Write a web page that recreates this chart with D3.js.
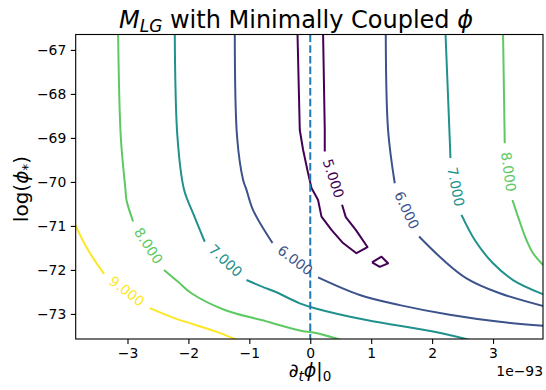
<!DOCTYPE html>
<html>
<head>
<meta charset="utf-8">
<script src="https://cdn.jsdelivr.net/npm/d3@7"></script>
<style>
    body { margin: 0; background: #fff; }
    svg text { font-family: 'DejaVu Sans', sans-serif; }
</style>
</head>
<body>
<div id="chart"></div>
<script>
// contour levels and viridis colours
var levels = [5, 6, 7, 8, 9]
var levelColors = ['#440154', '#3b528b', '#21918c', '#5ec962', '#fde725']

var xTicks = [-3, -2, -1, 0, 1, 2, 3]
var yTicks = [-73, -72, -71, -70, -69, -68, -67]
var xDomain = [-3.85, 3.82]
var yDomain = [-73.57, -66.65]

// contour polylines: [dphi (1e-93), log(phi*)]
var lines5 = [
    [[-0.21, -66.6], [-0.172, -68.82], [-0.118, -69.27], [-0.036, -69.8], [0.02, -70.14], [0.128, -70.41], [0.184, -70.79], [0.348, -71.09], [0.538, -71.39], [0.758, -71.62], [0.939, -71.48], [0.747, -71.09], [0.583, -70.8], [0.522, -70.52]],
    [[0.238, -69.31], [0.238, -68.82], [0.21, -66.6]],
    [[1.014, -71.83], [1.169, -71.7], [1.277, -71.85], [1.141, -71.93], [1.014, -71.83]]
]
var lines6 = [
    [[-1.239, -66.6], [-1.201, -68.98], [-1.103, -69.95], [-1.047, -70.18], [-0.939, -70.64], [-0.62, -71.39]],
    [[0.128, -72.17], [0.812, -72.57], [1.469, -72.8], [2.289, -73.02], [3.11, -73.18], [3.85, -73.27]],
    [[1.239, -66.6], [1.277, -68.82], [1.387, -70.03]],
    [[1.786, -71.24], [2.18, -71.77], [2.564, -72.19], [3.11, -72.53], [3.85, -72.83]]
]
var lines7 = [
    [[-2.224, -66.6], [-2.18, -68.98], [-2.071, -70.18], [-1.924, -70.71], [-1.732, -71.36]],
    [[-1.047, -72.23], [-0.719, -72.42], [-0.583, -72.49], [-0.172, -72.76], [0.074, -72.87], [0.922, -73.14], [2.015, -73.4], [2.646, -73.6]],
    [[2.219, -66.6], [2.29, -69.05], [2.301, -69.46]],
    [[2.482, -70.75], [2.7, -71.32], [3.0, -71.85], [3.328, -72.23], [3.85, -72.57]]
]
var lines8 = [
    [[-3.154, -66.6], [-3.11, -68.98], [-3.033, -70.18], [-3.017, -70.41], [-2.908, -70.9]],
    [[-2.4, -72.0], [-2.17, -72.27], [-1.95, -72.53], [-1.403, -72.91], [-0.801, -73.14], [-0.172, -73.375], [0.074, -73.43], [0.528, -73.6]],
    [[3.164, -66.6], [3.192, -69.12]],
    [[3.319, -70.41], [3.41, -70.79], [3.548, -71.32], [3.657, -71.62], [3.85, -71.93]]
]
var lines9 = [
    [[-3.9, -70.85], [-3.647, -71.55], [-3.384, -72.09]],
    [[-2.634, -72.87], [-2.224, -73.1], [-1.93, -73.23], [-1.57, -73.39], [-1.185, -73.6]]
]

// inline contour labels
var labelLevels = [5, 6, 6, 7, 7, 8, 8, 9]
var labelX = [0.381, -0.246, 1.587, -1.389, 2.391, -2.654, 3.256, -3.008]
var labelY = [-69.92, -71.78, -70.64, -71.79, -70.11, -71.45, -69.77, -72.48]
var labelAngle = [72, 37, 65, 43, 79, 57, 82, 37]

var W = 546,
    H = 390,
    margin = { top: 34.5, right: 3, bottom: 51, left: 75.7 },
    width = W - margin.left - margin.right,
    height = H - margin.top - margin.bottom

var svg = d3.select('#chart').append('svg').attr('width', W).attr('height', H)

var x = d3.scaleLinear().domain(xDomain).range([0, width])
var y = d3.scaleLinear().domain(yDomain).range([height, 0])
var color = d3.scaleOrdinal().domain(levels).range(levelColors)

svg.append('defs').append('clipPath').attr('id', 'plotclip')
    .append('rect').attr('width', width).attr('height', height)

var g = svg.append('g').attr('transform', 'translate(' + margin.left + ',' + margin.top + ')')
var plot = g.append('g').attr('clip-path', 'url(#plotclip)')

var smooth = d3.line()
    .x(function (d) { return x(d[0]) })
    .y(function (d) { return y(d[1]) })
    .curve(d3.curveCatmullRom.alpha(0.5))
var straight = d3.line()
    .x(function (d) { return x(d[0]) })
    .y(function (d) { return y(d[1]) })

var allLines = [lines5, lines6, lines7, lines8, lines9]
allLines.forEach(function (segs, i) {
    plot.selectAll('path.lv' + levels[i])
        .data(segs)
        .enter()
        .append('path')
        .attr('class', 'lv' + levels[i])
        .attr('d', levels[i] === 5 ? straight : smooth)
        .attr('fill', 'none')
        .attr('stroke', color(levels[i]))
        .attr('stroke-width', 2)
        .attr('stroke-linejoin', 'round')
})

// dashed line at dphi = 0
plot.append('line')
    .attr('x1', x(0)).attr('x2', x(0))
    .attr('y1', 0).attr('y2', height)
    .attr('stroke', '#1f77b4')
    .attr('stroke-width', 2)
    .attr('stroke-dasharray', '7.5,3.2')

// contour labels
plot.selectAll('text.clabel')
    .data(labelLevels)
    .enter()
    .append('text')
    .attr('class', 'clabel')
    .attr('transform', function (d, i) {
        return 'translate(' + x(labelX[i]) + ',' + y(labelY[i]) + ') rotate(' + labelAngle[i] + ')'
    })
    .attr('text-anchor', 'middle')
    .attr('dominant-baseline', 'central')
    .style('font-size', '13.9px')
    .attr('fill', function (d) { return color(d) })
    .text(function (d) { return d3.format('.3f')(d) })

// axes
var xAxis = g.append('g')
    .attr('transform', 'translate(0,' + height + ')')
    .call(d3.axisBottom(x).tickValues(xTicks).tickFormat(d3.format('d')).tickSize(4.9).tickPadding(4.5))
var yAxis = g.append('g')
    .call(d3.axisLeft(y).tickValues(yTicks).tickFormat(d3.format('d')).tickSize(4.9).tickPadding(4.5))
;[xAxis, yAxis].forEach(function (a) {
    a.select('.domain').remove()
    a.selectAll('line').attr('stroke', '#000').attr('stroke-width', 1.1)
    a.selectAll('text').style('font-size', '13.9px').attr('fill', '#000').style('font-family', 'DejaVu Sans')
})

g.append('rect')
    .attr('width', width).attr('height', height)
    .attr('fill', 'none').attr('stroke', '#000').attr('stroke-width', 1.1)

// offset text
svg.append('text')
    .attr('x', margin.left + width).attr('y', 376)
    .attr('text-anchor', 'end')
    .style('font-size', '13.9px')
    .text('1e\u221293')

// title
var title = svg.append('text')
    .attr('x', 296).attr('y', 28)
    .attr('text-anchor', 'middle')
    .style('font-size', '24px')
title.append('tspan').style('font-style', 'italic').text('M')
title.append('tspan').style('font-style', 'italic').style('font-size', '17px').attr('dy', 4).text('LG')
title.append('tspan').attr('dy', -4).text(' with Minimally Coupled ')
title.append('tspan').style('font-style', 'italic').text('\u03d5')

// x label
var xl = svg.append('text')
    .attr('x', 310).attr('y', 377)
    .attr('text-anchor', 'middle')
    .style('font-size', '19px')
xl.append('tspan').text('\u2202')
xl.append('tspan').style('font-style', 'italic').style('font-size', '13.5px').attr('dy', 4).text('t')
xl.append('tspan').style('font-style', 'italic').attr('dy', -4).text('\u03d5')
xl.append('tspan').text('|')
xl.append('tspan').style('font-size', '13.5px').attr('dy', 4).text('0')

// y label
var yl = svg.append('text')
    .attr('transform', 'translate(28,189) rotate(-90)')
    .attr('text-anchor', 'middle')
    .style('font-size', '20px')
yl.append('tspan').text('log(')
yl.append('tspan').style('font-style', 'italic').text('\u03d5')
yl.append('tspan').style('font-size', '14px').attr('dy', 4).text('*')
yl.append('tspan').attr('dy', -4).text(')')
</script>
</body>
</html>
